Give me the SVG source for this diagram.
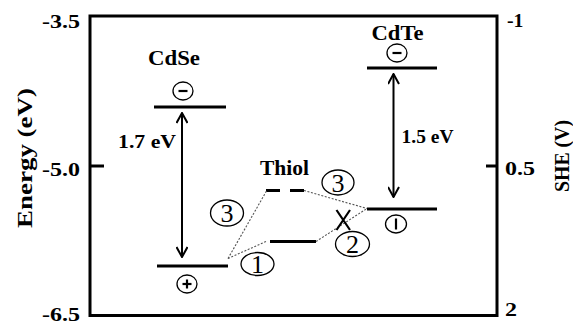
<svg xmlns="http://www.w3.org/2000/svg" width="573" height="324" viewBox="0 0 573 324">
  <style>
    text { font-family: 'Liberation Serif', 'DejaVu Serif', serif; fill: #000; }
    .lbl { font-weight: bold; }
    .num { font-size: 26px; text-anchor: middle; }
    .frame { fill: none; stroke: #000; stroke-width: 3; }
    .level { stroke: #000; stroke-width: 3; fill: none; }
    .gap { stroke: #000; stroke-width: 2; fill: none; marker-start: url(#tip); marker-end: url(#tip); }
    .dot { stroke: #555; stroke-width: 1.1; stroke-dasharray: 2 1.6; fill: none; }
    .ring { fill: none; stroke: #000; stroke-width: 1.3; }
    .sign { stroke: #000; stroke-width: 2.2; fill: none; }
  </style>
  <defs>
    <marker id="tip" viewBox="0 0 12 12" refX="11" refY="6" markerWidth="12" markerHeight="12" markerUnits="userSpaceOnUse" orient="auto-start-reverse">
      <path d="M1,0.5 L11,6 L1,11.5" fill="none" stroke="#000" stroke-width="2"/>
    </marker>
  </defs>

  <rect width="573" height="324" fill="#fff"/>

  <!-- axes frame and ticks -->
  <g id="axes">
    <path class="frame" d="M90,16 H497 V315.5 H90 Z"/>
    <line class="frame" x1="90" y1="166" x2="104" y2="166"/>
    <line class="frame" x1="486" y1="166" x2="497" y2="166"/>
    <text class="lbl" x="42" y="28" font-size="18" textLength="38" lengthAdjust="spacingAndGlyphs">-3.5</text>
    <text class="lbl" x="42" y="175.5" font-size="18" textLength="38" lengthAdjust="spacingAndGlyphs">-5.0</text>
    <text class="lbl" x="42" y="321" font-size="18" textLength="38" lengthAdjust="spacingAndGlyphs">-6.5</text>
    <text class="lbl" x="507" y="27" font-size="18" textLength="16.5" lengthAdjust="spacingAndGlyphs">-1</text>
    <text class="lbl" x="505" y="175" font-size="18" textLength="30" lengthAdjust="spacingAndGlyphs">0.5</text>
    <text class="lbl" x="505" y="316" font-size="18" textLength="12" lengthAdjust="spacingAndGlyphs">2</text>
    <text class="lbl" x="31.5" y="158" font-size="22" text-anchor="middle" textLength="140" lengthAdjust="spacingAndGlyphs" transform="rotate(-90 31.5 158)">Energy (eV)</text>
    <text class="lbl" x="569" y="156" font-size="21" text-anchor="middle" textLength="72" lengthAdjust="spacingAndGlyphs" transform="rotate(-90 569 156)">SHE (V)</text>
  </g>

  <!-- CdSe levels -->
  <g id="cdse">
    <text class="lbl" x="148" y="65" font-size="20" textLength="52" lengthAdjust="spacingAndGlyphs">CdSe</text>
    <ellipse class="ring" cx="183" cy="91" rx="10" ry="9"/>
    <line class="sign" x1="178.5" y1="91" x2="187.5" y2="91"/>
    <line class="level" x1="154" y1="107" x2="226" y2="107"/>
    <line class="level" x1="157" y1="266" x2="228" y2="266"/>
    <ellipse class="ring" cx="187" cy="284" rx="10" ry="9"/>
    <line class="sign" x1="182.5" y1="284" x2="191.5" y2="284"/>
    <line class="sign" x1="187" y1="279.5" x2="187" y2="288.5"/>
    <text class="lbl" x="118" y="148" font-size="19" textLength="58" lengthAdjust="spacingAndGlyphs">1.7 eV</text>
  </g>

  <!-- CdTe levels -->
  <g id="cdte">
    <text class="lbl" x="371.5" y="40" font-size="20" textLength="52" lengthAdjust="spacingAndGlyphs">CdTe</text>
    <ellipse class="ring" cx="397" cy="53" rx="10" ry="9"/>
    <line class="sign" x1="392.5" y1="53" x2="401.5" y2="53"/>
    <line class="level" x1="367" y1="68" x2="437" y2="68"/>
    <line class="level" x1="367" y1="209" x2="437" y2="209"/>
    <ellipse class="ring" cx="396" cy="224" rx="10.5" ry="9"/>
    <line class="sign" x1="396" y1="218.5" x2="396" y2="229.5" stroke-width="3"/>
    <text class="lbl" x="401.5" y="143" font-size="19" textLength="52" lengthAdjust="spacingAndGlyphs">1.5 eV</text>
  </g>

  <!-- thiol levels -->
  <g id="thiol">
    <text class="lbl" x="284.5" y="175" font-size="20" text-anchor="middle" textLength="49" lengthAdjust="spacingAndGlyphs">Thiol</text>
    <line class="level" x1="266" y1="190.5" x2="280" y2="190.5"/>
    <line class="level" x1="290" y1="190.5" x2="304" y2="190.5"/>
    <line class="level" x1="270" y1="241.5" x2="316" y2="241.5"/>
  </g>

  <!-- transitions -->
  <g id="connectors">
    <line class="gap" x1="182" y1="257" x2="182" y2="113"/>
    <line class="gap" x1="393.5" y1="197" x2="393.5" y2="74"/>
    <path class="dot" d="M228,258.5 L266.5,191"/>
    <path class="dot" d="M228,258.5 L266,241.5"/>
    <path class="dot" d="M304,190.5 L367,208.5"/>
    <path class="dot" d="M316,241.5 L367,208.5"/>
    <path class="sign" d="M336.5,210 L350,230 M350,210 L336.5,230" stroke-width="2"/>
  </g>

  <!-- numbered paths -->
  <g id="step-labels">
    <ellipse class="ring" cx="227" cy="213" rx="16.5" ry="13"/>
    <text class="num" x="227" y="222">3</text>
    <ellipse class="ring" cx="338" cy="182.5" rx="16" ry="12.5"/>
    <text class="num" x="338" y="191.5">3</text>
    <ellipse class="ring" cx="352.5" cy="244" rx="17" ry="12.5"/>
    <text class="num" x="352.5" y="253">2</text>
    <ellipse class="ring" cx="257.5" cy="264" rx="16.5" ry="11.5"/>
    <text class="num" x="257.5" y="273">1</text>
  </g>
</svg>
